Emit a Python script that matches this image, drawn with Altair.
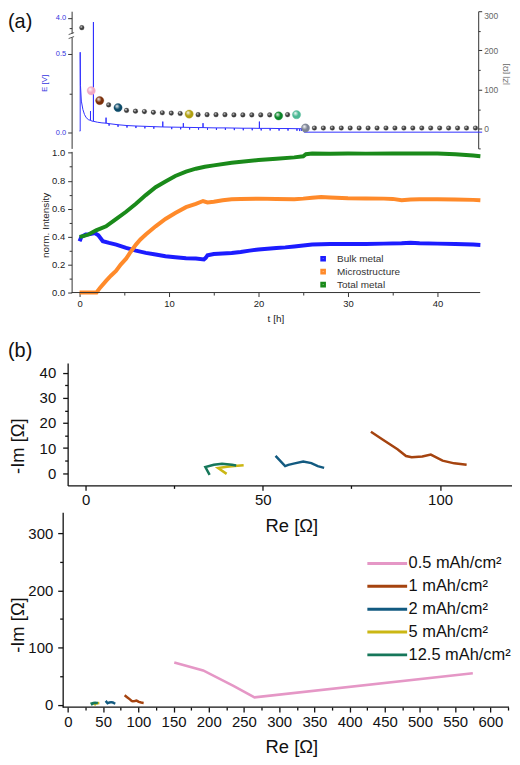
import altair as alt
import pandas as pd

FONT = "Liberation Sans"

# ---------------- (a) upper: cell potential E and impedance |Z| versus time
e_t = [0.00, 0.07, 0.07, 0.10, 0.20, 0.37, 0.55, 0.74, 1.00,
       1.22, 1.22, 1.22, 1.40, 1.55, 1.55, 1.55, 2.00, 2.50,
       2.96, 2.96, 2.96,
       3.30, 3.30, 3.30, 4.30, 4.30, 4.30, 5.30, 5.30, 5.30,
       6.30, 6.30, 6.30, 7.30, 7.30, 7.30, 8.30, 8.30, 8.30,
       9.30, 9.30, 9.30, 10.30, 10.30, 10.30, 11.30, 11.30, 11.30,
       11.60, 11.60, 11.60, 12.30, 12.30, 12.30, 13.30, 13.30, 13.30,
       13.80, 13.80, 13.80, 14.30, 14.30, 14.30, 15.30, 15.30, 15.30,
       16.30, 16.30, 16.30, 17.30, 17.30, 17.30, 18.30, 18.30, 18.30,
       19.30, 19.30, 19.30, 20.10, 20.10, 20.10, 20.30, 20.30, 20.30,
       21.30, 21.30, 21.30, 22.30, 22.30, 22.30, 23.30, 23.30, 23.30,
       24.30, 24.30, 24.30, 24.60, 24.60, 24.60, 24.80, 24.80, 24.80,
       25.05, 25.10, 45.00]
e_v = [0.010, 0.010, 0.510, 0.300, 0.200, 0.147, 0.115, 0.095, 0.082,
       0.078, 0.137, 0.078, 0.073, 0.072, 3.900, 0.072, 0.066, 0.062,
       0.060, 0.095, 0.060,
       0.057, 0.044, 0.057, 0.050, 0.037, 0.050, 0.045, 0.032, 0.045,
       0.042, 0.029, 0.042, 0.040, 0.027, 0.040, 0.038, 0.025, 0.038,
       0.036, 0.070, 0.036, 0.035, 0.022, 0.035, 0.034, 0.021, 0.034,
       0.034, 0.060, 0.034, 0.033, 0.020, 0.033, 0.032, 0.019, 0.032,
       0.032, 0.060, 0.032, 0.031, 0.018, 0.031, 0.030, 0.017, 0.030,
       0.030, 0.017, 0.030, 0.029, 0.016, 0.029, 0.028, 0.015, 0.028,
       0.028, 0.015, 0.028, 0.027, 0.070, 0.027, 0.027, 0.014, 0.027,
       0.027, 0.014, 0.027, 0.026, 0.013, 0.026, 0.026, 0.013, 0.026,
       0.025, 0.012, 0.025, 0.025, 0.010, 0.025, 0.025, 0.012, 0.025,
       0.024, 0.003, 0.003]

z_t = [0.25, 1.3, 2.25, 3.25, 4.3, 5.25, 6.25, 7.25, 8.25, 9.25,
       10.25, 11.25, 12.25, 13.25, 14.25, 15.25, 16.25, 17.25, 18.25, 19.25,
       20.25, 21.25, 22.25, 23.25, 24.25, 25.25, 26.25, 27.25, 28.25, 29.25,
       30.25, 31.25, 32.25, 33.25, 34.25, 35.25, 36.25, 37.25, 38.25, 39.25,
       40.25, 41.25, 42.25, 43.25, 44.25]
z_abs = [258, 97, 72, 61, 54, 47, 45, 44, 42, 41,
         40, 39, 37.5, 36, 36, 36, 36, 35.5, 35.5, 35.5,
         35.5, 35.5, 33, 36, 36, 2, 2, 2, 2, 2,
         2, 2, 2, 2, 2, 2, 2, 2, 2, 2,
         2, 2, 2, 2, 2]
z_kind = ["grey", "pink", "brown", "grey", "blue",
          "grey", "grey", "grey", "grey", "grey", "grey", "grey",
          "yellow",
          "grey", "grey", "grey", "grey", "grey", "grey", "grey", "grey", "grey",
          "green", "grey", "teal", "steel"] + ["grey"] * 19

# ---------------- (a) lower: normalised intensities
bulk_t = [0.0, 0.2, 0.7, 1.2, 1.7, 2.1, 2.6, 3.3, 4.1, 5.2,
          6.3, 7.4, 8.5, 9.6, 10.7, 11.9, 13.0, 13.9, 14.1, 14.3,
          15.0, 16.0, 17.0, 18.0, 19.0, 20.0, 21.0, 22.0, 23.0, 24.0,
          25.0, 26.0, 27.0, 28.0, 30.0, 32.0, 34.0, 36.0, 37.0, 38.0,
          40.0, 42.0, 44.0, 44.8]
bulk_v = [0.367, 0.398, 0.415, 0.418, 0.425, 0.410, 0.367, 0.355, 0.343, 0.320,
          0.300, 0.284, 0.272, 0.260, 0.253, 0.246, 0.244, 0.237, 0.248, 0.266,
          0.276, 0.279, 0.283, 0.290, 0.300, 0.308, 0.313, 0.318, 0.323, 0.330,
          0.336, 0.343, 0.345, 0.347, 0.348, 0.348, 0.350, 0.352, 0.357, 0.352,
          0.350, 0.348, 0.343, 0.340]
micro_t = [0.0, 1.0, 1.9, 2.3, 2.96, 3.5, 4.07, 4.6, 5.2, 5.7,
           6.3, 6.8, 7.4, 8.5, 9.6, 10.7, 11.9, 13.0, 13.8, 14.3,
           15.0, 16.0, 17.0, 18.0, 20.0, 22.0, 24.0, 25.0, 26.0, 27.0,
           28.0, 30.0, 32.0, 34.0, 35.0, 36.0, 37.0, 38.0, 40.0, 42.0,
           44.0, 44.8]
micro_v = [0.0, 0.0, 0.0, 0.035, 0.083, 0.120, 0.154, 0.200, 0.242, 0.290,
           0.343, 0.380, 0.415, 0.474, 0.526, 0.569, 0.611, 0.635, 0.655, 0.645,
           0.650, 0.660, 0.668, 0.670, 0.672, 0.670, 0.668, 0.672, 0.678, 0.683,
           0.680, 0.675, 0.673, 0.672, 0.670, 0.660, 0.665, 0.668, 0.668, 0.665,
           0.663, 0.660]
total_t = [0.0, 0.5, 1.0, 1.85, 2.96, 4.07, 5.2, 6.3, 7.4, 8.5,
           9.6, 10.7, 11.9, 13.0, 14.0, 15.0, 17.0, 20.0, 22.0, 24.0,
           25.0, 25.3, 26.0, 28.0, 30.0, 32.0, 35.0, 38.0, 40.0, 42.0,
           44.0, 44.8]
total_v = [0.398, 0.405, 0.415, 0.445, 0.474, 0.526, 0.578, 0.635, 0.697, 0.754,
           0.794, 0.834, 0.865, 0.886, 0.900, 0.910, 0.929, 0.948, 0.957, 0.967,
           0.975, 0.990, 0.995, 0.993, 0.995, 0.994, 0.995, 0.995, 0.995, 0.990,
           0.980, 0.975]
mid_names = ["Bulk metal", "Microstructure", "Total metal"]

# ---------------- (b) Nyquist plots
b_names = ["0.5 mAh/cm²", "1 mAh/cm²", "2 mAh/cm²", "5 mAh/cm²", "12.5 mAh/cm²"]
s05_re = [151, 192, 235, 265, 575]
s05_im = [74, 60, 33, 13, 55]
s1_re = [80.5, 84, 88, 90.4, 92, 95, 97.4, 100.7, 104, 107.5]
s1_im = [16.5, 13.2, 9.5, 6.8, 6.3, 6.6, 7.4, 5.0, 3.9, 3.3]
s2_re = [53.6, 56.3, 57.2, 59, 61.4, 63.7, 65.5, 67.3]
s2_im = [6.9, 2.8, 3.3, 3.9, 4.6, 4.0, 2.8, 2.1]
s5_re = [39.8, 37.4, 39.9, 42.0, 44.6]
s5_im = [-0.3, 2.0, 2.5, 2.8, 3.1]
s125_re = [35.0, 33.8, 36.2, 38.5, 41.3, 42.5]
s125_im = [-0.7, 2.4, 3.3, 3.7, 3.3, 3.0]

# ---------------- styles
BALL_STYLE = {
    "grey": ("#3c3c3c", 22), "pink": ("#f0a8c4", 70), "brown": ("#7c300a", 70),
    "blue": ("#0c4a68", 70), "yellow": ("#b0a010", 70), "green": ("#0a8428", 70),
    "teal": ("#4cb894", 70), "steel": ("#7d8494", 70),
}
MID_COLORS = ["#1c1cff", "#ff8a2a", "#1a8a1a"]
B_COLORS = ["#e597c6", "#a5430f", "#125a80", "#cbb714", "#16775a"]
BLUE_TXT = "#3535e0"

# ---------------- frames
e_df = pd.DataFrame({"t": e_t, "E": e_v, "i": range(len(e_t))})
z_df = pd.DataFrame({"t": z_t, "Z": z_abs, "kind": z_kind})
one = pd.DataFrame({"k": [0]})

mid_parts = []
for name, tt, vv in zip(mid_names, [bulk_t, micro_t, total_t], [bulk_v, micro_v, total_v]):
    mid_parts.append(pd.DataFrame({"series": name, "t": tt, "v": vv, "i": range(len(tt))}))
mid_df = pd.concat(mid_parts, ignore_index=True)

b_parts = []
for name, rr, ii in zip(b_names, [s05_re, s1_re, s2_re, s5_re, s125_re],
                        [s05_im, s1_im, s2_im, s5_im, s125_im]):
    b_parts.append(pd.DataFrame({"series": name, "re": rr, "im": ii, "i": range(len(rr))}))
b_df = pd.concat(b_parts, ignore_index=True)


def tick_size(test, major, minor):
    return {"condition": {"test": test, "value": minor}, "value": major}


# ================= panel (a) upper
xA = alt.Scale(domain=[-1.333, 44.78], nice=False, zero=False)

axE = alt.Axis(
    values=[0, 0.25, 0.5, 3.75, 4.0],
    labelExpr="datum.value == 0 ? '0.0' : datum.value == 0.5 ? '0.5' : datum.value == 4 ? '4.0' : ''",
    tickSize=tick_size("datum.value == 0.25 || datum.value == 3.75", 4, 2.5),
    offset=-4, labelColor=BLUE_TXT, labelFontSize=7.5, labelPadding=2,
    domainColor="#333", tickColor="#333", labelOverlap=False,
    title="E [V]", titleColor=BLUE_TXT, titleFontSize=8, titleX=-27, titleY=72,
    titleBaseline="middle", titleAngle=270,
)
e_line = alt.Chart(e_df).mark_line(color="#3030ff", strokeWidth=1).encode(
    x=alt.X("t:Q", scale=xA, axis=None),
    y=alt.Y("E:Q", scale=alt.Scale(domain=[-0.1, 0.6, 3.6, 4.15], range=[138, 27, 24, 0],
                                   nice=False, zero=False), axis=axE),
    order="i:Q",
)
brk_bg = alt.Chart(one).mark_rect(color="white").encode(
    x=alt.value(0.5), x2=alt.value(7), y=alt.value(22.5), y2=alt.value(26.5))
brk1 = alt.Chart(one).mark_rule(color="#333", strokeWidth=0.8).encode(
    x=alt.value(1), x2=alt.value(6.5), y=alt.value(23.5), y2=alt.value(21.5))
brk2 = alt.Chart(one).mark_rule(color="#333", strokeWidth=0.8).encode(
    x=alt.value(1), x2=alt.value(6.5), y=alt.value(27.5), y2=alt.value(25.5))
label_a = alt.Chart(one).mark_text(text="(a)", font=FONT, fontSize=20, align="left",
                                   baseline="top", color="#111").encode(
    x=alt.value(-60), y=alt.value(1))

axZ = alt.Axis(
    orient="right", values=[-50, 0, 50, 100, 150, 200, 250, 300],
    labelExpr="datum.value >= 0 && datum.value % 100 == 0 ? datum.value : ''",
    tickSize=tick_size("datum.value % 100 != 0", 3.5, 2),
    offset=-2, labelColor="#666", labelFontSize=8.5, labelPadding=2, labelFlush=True,
    domainColor="#333", tickColor="#333", labelOverlap=False,
    title="|Z| [Ω]", titleColor="#666", titleFontSize=8, titleX=27, titleY=63,
    titleBaseline="middle", titleAngle=270,
)
balls = []
for kind in ["grey", "pink", "brown", "blue", "yellow", "green", "teal", "steel"]:
    col, sz = BALL_STYLE[kind]
    grad = alt.Gradient(
        gradient="radial",
        stops=[alt.GradientStop(color="#ffffff", offset=0),
               alt.GradientStop(color=col, offset=0.55),
               alt.GradientStop(color=col, offset=1)],
        x1=0.35, y1=0.3, r1=0, x2=0.45, y2=0.45, r2=0.6)
    balls.append(
        alt.Chart(z_df).transform_filter(alt.datum.kind == kind)
        .mark_circle(fill=grad, opacity=1, size=sz, stroke=col, strokeWidth=0.3)
        .encode(x=alt.X("t:Q", scale=xA, axis=None),
                y=alt.Y("Z:Q", scale=alt.Scale(domain=[-50, 300], nice=False, zero=False),
                        axis=axZ))
    )

A_top = alt.layer(
    alt.layer(e_line, brk_bg, brk1, brk2, label_a),
    alt.layer(*balls),
).resolve_scale(y="independent").properties(width=415, height=138)

# ================= panel (a) lower
axT = alt.Axis(
    values=[0, 5, 10, 15, 20, 25, 30, 35, 40],
    labelExpr="datum.value % 10 == 0 ? datum.value : ''",
    tickSize=tick_size("datum.value % 10 != 0", 4, 2.5),
    domain=False, labelFontSize=9.5, labelColor="#222", labelPadding=2, tickColor="#333",
    labelFlush=False, labelOverlap=False,
    title="t [h]", titleFontSize=10, titleColor="#222", titleX=209, titleY=26,
    titleBaseline="middle",
)
axI = alt.Axis(
    values=[0, 0.1, 0.2, 0.3, 0.4, 0.5, 0.6, 0.7, 0.8, 0.9, 1.0],
    labelExpr="round(datum.value * 10) % 2 == 0 ? format(datum.value, '.1f') : ''",
    tickSize=tick_size("round(datum.value * 10) % 2 == 1", 4, 2.5),
    offset=-4, labelFontSize=9.5, labelColor="#222", labelPadding=3,
    domainColor="#333", tickColor="#333", labelOverlap=False, labelFlush=False,
    title="norm. Intensity", titleFontSize=10, titleColor="#222", titleX=-26, titleY=74,
    titleBaseline="middle", titleAngle=270,
)
legA = alt.Legend(
    orient="none", legendX=252, legendY=102.5, title=None, padding=0,
    symbolType="square", symbolSize=10, symbolStrokeWidth=2.5,
    labelFontSize=10, labelFont=FONT, labelColor="#333", labelOffset=9,
    rowPadding=2, clipHeight=11,
)
mid_lines = alt.Chart(mid_df).mark_line(strokeWidth=4).encode(
    x=alt.X("t:Q", scale=xA, axis=axT),
    y=alt.Y("v:Q", scale=alt.Scale(domain=[0, 1.01], nice=False, zero=False), axis=axI),
    color=alt.Color("series:N", scale=alt.Scale(domain=mid_names, range=MID_COLORS), legend=legA),
    order="i:Q",
)
mid_axis_line = alt.Chart(one).mark_rule(color="#333", strokeWidth=1).encode(
    x=alt.value(4), x2=alt.value(415), y=alt.value(142))
A_mid = alt.layer(mid_lines, mid_axis_line).properties(width=415, height=142)

# ================= panel (b)
bscale = alt.Scale(domain=b_names, range=B_COLORS)
common_b = dict(domainColor="#111", tickColor="#111", domainWidth=1.3, tickWidth=1.3,
                labelColor="#111", labelFontSize=15, labelOverlap=False, labelFlush=False,
                titleFontSize=18.5, titleColor="#111", titleBaseline="middle")

axB1x = alt.Axis(values=[0, 25, 50, 75, 100],
                 labelExpr="datum.value % 50 == 0 ? datum.value : ''",
                 tickSize=tick_size("datum.value % 50 != 0", 5, 3), labelPadding=2,
                 title="Re [Ω]", titleX=225, titleY=40, **common_b)
axB1y = alt.Axis(values=[0, 5, 10, 15, 20, 25, 30, 35, 40],
                 labelExpr="datum.value % 10 == 0 ? datum.value : ''",
                 tickSize=tick_size("datum.value % 10 != 0", 5, 3), labelPadding=7,
                 title="-Im [Ω]", titleX=-50.5, titleY=83, titleAngle=270, **common_b)
B_top = alt.Chart(b_df).mark_line(strokeWidth=2.5, clip=True).encode(
    x=alt.X("re:Q", scale=alt.Scale(domain=[-5.05, 120.3], nice=False, zero=False), axis=axB1x),
    y=alt.Y("im:Q", scale=alt.Scale(domain=[-4.9, 43.9], nice=False, zero=False), axis=axB1y),
    color=alt.Color("series:N", scale=bscale, legend=None),
    order="i:Q",
).properties(width=447, height=123)

axB2x = alt.Axis(values=list(range(0, 626, 25)),
                 labelExpr="datum.value % 50 == 0 ? datum.value : ''",
                 tickSize=tick_size("datum.value % 50 != 0", 5, 3), labelPadding=3,
                 domain=False,
                 title="Re [Ω]", titleX=225, titleY=39.5, **common_b)
axB2y = alt.Axis(values=[0, 50, 100, 150, 200, 250, 300],
                 labelExpr="datum.value % 100 == 0 ? datum.value : ''",
                 tickSize=tick_size("datum.value % 100 != 0", 5, 3), labelPadding=5,
                 offset=5,
                 title="-Im [Ω]", titleX=-45.5, titleY=113, titleAngle=270, **common_b)
legB = alt.Legend(
    orient="none", legendX=300, legendY=43, title=None, padding=0,
    symbolType="stroke", symbolSize=1600, symbolStrokeWidth=3,
    labelFontSize=16.5, labelFont=FONT, labelColor="#111", labelOffset=0,
    rowPadding=6, clipHeight=17,
)
B_bot_lines = alt.Chart(b_df).mark_line(strokeWidth=2.5).encode(
    x=alt.X("re:Q", scale=alt.Scale(domain=[-0.42, 626.4], nice=False, zero=False), axis=axB2x),
    y=alt.Y("im:Q", scale=alt.Scale(domain=[-4, 337], nice=False, zero=False), axis=axB2y),
    color=alt.Color("series:N", scale=bscale, legend=legB),
    order="i:Q",
)
b_axis_line = alt.Chart(one).mark_rule(color="#111", strokeWidth=1.3).encode(
    x=alt.value(-5), x2=alt.value(444), y=alt.value(196))
B_bot = alt.layer(B_bot_lines, b_axis_line).properties(width=444, height=196)


# ================= spacers
def spacer(h, text=""):
    return alt.Chart(one).mark_text(text=text, font=FONT, fontSize=20, align="left",
                                    baseline="top", color="#111").encode(
        x=alt.value(-60), y=alt.value(49)).properties(width=415, height=h)


chart = alt.vconcat(
    A_top, spacer(3), A_mid, spacer(71, "(b)"), B_top, spacer(27), B_bot,
    spacing=0, bounds="flush",
).resolve_scale(color="independent").properties(
    padding=0
).configure(font=FONT).configure_view(strokeWidth=0).configure_axis(
    grid=False, labelFont=FONT, titleFont=FONT, titleFontWeight="normal"
)

chart.save("out.html", embed_options={"renderer": "svg", "actions": False})
